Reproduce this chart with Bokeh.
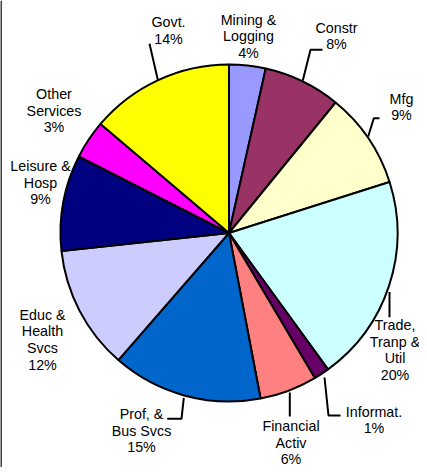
import math
from bokeh.plotting import figure
from bokeh.models import Range1d, ColumnDataSource
from bokeh.core.properties import value
from bokeh.embed import file_html
from bokeh.resources import INLINE

# ---- data (clockwise from 12 o'clock) ----
categories = ["Mining & Logging", "Constr", "Mfg", "Trade, Tranp & Util", "Informat.",
              "Financial Activ", "Prof, & Bus Svcs", "Educ & Health Svcs",
              "Leisure & Hosp", "Other Services", "Govt."]
values = [3.5, 7.4, 9.2, 19.9, 1.5, 5.5, 14.4, 11.9, 9.2, 3.7, 13.8]
pct_labels = ["4%", "8%", "9%", "20%", "1%", "6%", "15%", "12%", "9%", "3%", "14%"]
label_lines = [["Mining &", "Logging"], ["Constr"], ["Mfg"], ["Trade,", "Tranp &", "Util"],
               ["Informat."], ["Financial", "Activ"], ["Prof, &", "Bus Svcs"],
               ["Educ &", "Health", "Svcs"], ["Leisure &", "Hosp"], ["Other", "Services"], ["Govt."]]
colors = ["#9999FF", "#993366", "#FFFFCC", "#CCFFFF", "#660066", "#FF8080",
          "#0066CC", "#CCCCFF", "#000080", "#FF00FF", "#FFFF00"]

# ---- layout (picture pixel coordinates) ----
W, H = 419, 467
OX, OY = 0, 0
CX, CY, S = 228.5, 232.5, 168.5  # pie centre and radius in px


def ux(px):
    return (px - CX) / S


def uy(py):
    return (CY - py) / S


# label centre x and first line y (px)
label_pos = [(248, 19), (336, 27), (401, 98), (394.5, 324.5), (373.5, 411),
             (290.5, 425.5), (141, 413.5), (42, 314), (40, 165.5), (53.5, 93.5), (168, 21.5)]
LINE = 16.7
leaders = [None,
           [(322, 49.3), (310, 49.3), (302.3, 80)],
           [(379, 117.7), (373.3, 117.7), (367.7, 136)],
           [(389, 291.5), (389, 316.7)],
           [(324, 377), (328, 415), (340, 415)],
           [(289.3, 392), (289.3, 416)],
           [(183.3, 397.3), (181, 418.3), (166.7, 418.3)],
           None, None, None,
           [(157.3, 79.3), (149, 43.3)]]

p = figure(width=W, height=H, output_backend="svg", toolbar_location=None,
           x_range=Range1d(ux(OX), ux(OX + W)), y_range=Range1d(uy(OY + H), uy(OY)),
           min_border=0)
p.axis.visible = False
p.grid.visible = False
p.outline_line_color = None
p.background_fill_color = "white"

# left border line of the original picture
p.line([ux(0.5), ux(0.5)], [uy(0), uy(H)], line_color="black", line_width=1.5)

total = sum(values)
starts, ends = [], []
cum = 0.0
for v in values:
    a0 = math.pi / 2 - 2 * math.pi * (cum + v) / total
    a1 = math.pi / 2 - 2 * math.pi * cum / total
    starts.append(a0)
    ends.append(a1)
    cum += v

src = ColumnDataSource(dict(cat=categories, val=values, start=starts, end=ends, color=colors))
p.wedge(x=0, y=0, radius=1.0, start_angle="start", end_angle="end", direction="anticlock",
        fill_color="color", line_color="black", line_width=2, source=src)

for lines_ in leaders:
    if lines_ is None:
        continue
    p.line([ux(a) for a, b in lines_], [uy(b) for a, b in lines_], line_color="black", line_width=2)

tx, ty, tt = [], [], []
for (lx, ly), lines_, pct in zip(label_pos, label_lines, pct_labels):
    for i, t in enumerate(lines_ + [pct]):
        tx.append(ux(lx))
        ty.append(uy(ly + i * LINE))
        tt.append(t)
p.text(x=tx, y=ty, text=tt, text_align="center", text_baseline="middle",
       text_font=value("Liberation Sans"), text_font_size="14.3px", text_color="black")

open("out.html", "w").write(file_html(p, INLINE))
